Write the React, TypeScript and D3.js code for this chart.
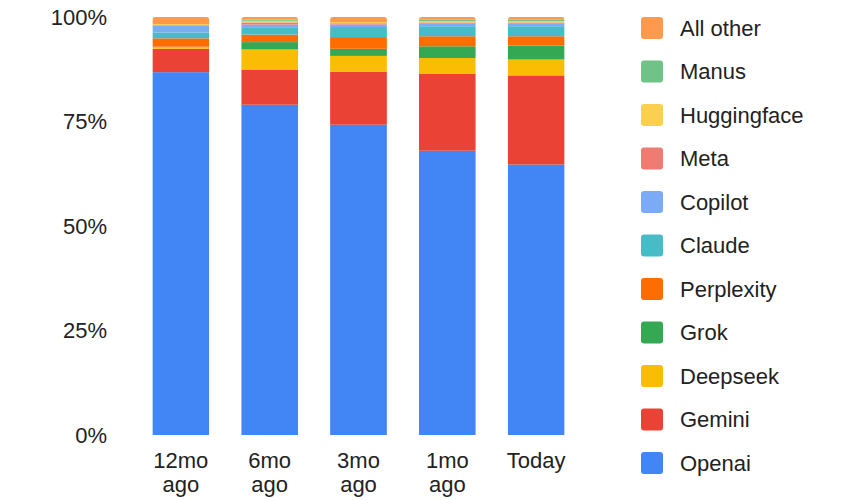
import React, { useEffect, useRef } from 'react';
import * as d3 from 'd3';

const categories = ['12mo ago', '6mo ago', '3mo ago', '1mo ago', 'Today'];

// bottom to top stacking order
const seriesNames = ['Openai', 'Gemini', 'Deepseek', 'Grok', 'Perplexity', 'Claude', 'Copilot', 'Meta', 'Huggingface', 'Manus', 'All other'];
const colors = ['#4285F4', '#EA4335', '#FBBC04', '#34A853', '#FF6D01', '#46BDC6', '#7BAAF7', '#F07B72', '#FCD04F', '#71C287', '#FF994D'];

const openai = [86.8, 78.9, 74.2, 67.9, 64.6];
const gemini = [5.6, 8.4, 12.7, 18.4, 21.3];
const deepseek = [0.4, 4.8, 3.75, 3.75, 3.8];
const grok = [0.1, 1.75, 1.7, 2.8, 3.35];
const perplexity = [2.0, 1.8, 2.8, 2.4, 2.2];
const claude = [1.4, 1.6, 2.4, 2.4, 2.4];
const copilot = [1.6, 0.8, 0.6, 0.6, 0.6];
const meta = [0.15, 0.5, 0.3, 0.3, 0.3];
const huggingface = [0.25, 0.4, 0.3, 0.3, 0.3];
const manus = [0.0, 0.3, 0.0, 0.4, 0.4];
const allOther = [1.7, 0.6, 1.2, 0.6, 0.6];

const seriesValues = [openai, gemini, deepseek, grok, perplexity, claude, copilot, meta, huggingface, manus, allOther];
const yTicks = [0, 25, 50, 75, 100];

const W = 860;
const H = 500;
const FONT = 'Arial, "Liberation Sans", sans-serif';
const FS = 22;

const App: React.FC = () => {
  const svgRef = useRef<SVGSVGElement>(null);

  useEffect(() => {
    document.body.style.margin = '0';
    if (!svgRef.current) return;
    const svg = d3.select(svgRef.current);
    svg.selectAll('*').remove();

    const rows = categories.map((c, i) => {
      const row: Record<string, number | string> = { cat: c };
      seriesNames.forEach((s, j) => { row[s] = seriesValues[j][i]; });
      return row;
    });

    const stack = d3.stack<Record<string, number | string>>()
      .keys(seriesNames)
      .value((d, k) => d[k] as number)
      .offset(d3.stackOffsetExpand);
    const stacked = stack(rows);

    const x = d3.scaleBand()
      .domain(categories)
      .range([108, 609])
      .paddingInner(0.36)
      .paddingOuter(0.5);

    const y = d3.scaleLinear().domain([0, 1]).range([435, 17]);

    // rounded tops
    const defs = svg.append('defs');
    categories.forEach((c, i) => {
      defs.append('clipPath')
        .attr('id', `bar-clip-${i}`)
        .append('rect')
        .attr('x', x(c) || 0)
        .attr('y', y(1))
        .attr('width', x.bandwidth())
        .attr('height', y(0) - y(1) + 6)
        .attr('rx', 3);
    });

    const g = svg.append('g');
    categories.forEach((c, i) => {
      const bar = g.append('g').attr('clip-path', `url(#bar-clip-${i})`);
      stacked.forEach((layer, j) => {
        const d = layer[i];
        bar.append('rect')
          .attr('x', x(c) || 0)
          .attr('y', y(d[1]))
          .attr('width', x.bandwidth())
          .attr('height', Math.max(0, y(d[0]) - y(d[1])))
          .attr('fill', colors[j]);
      });
    });

    // y axis labels
    svg.append('g')
      .selectAll('text')
      .data(yTicks)
      .enter().append('text')
      .attr('x', 107)
      .attr('y', d => y(d / 100))
      .attr('dy', '0.35em')
      .attr('text-anchor', 'end')
      .attr('font-family', FONT)
      .attr('font-size', FS)
      .attr('fill', '#222')
      .text(d => `${d}%`);

    // x axis labels
    const xl = svg.append('g');
    categories.forEach(c => {
      const cx = (x(c) || 0) + x.bandwidth() / 2;
      const parts = c === 'Today' ? ['Today'] : [c.split(' ')[0], c.split(' ')[1]];
      const t = xl.append('text')
        .attr('x', cx)
        .attr('y', 468)
        .attr('text-anchor', 'middle')
        .attr('font-family', FONT)
        .attr('font-size', FS)
        .attr('fill', '#222');
      parts.forEach((p, k) => {
        t.append('tspan').attr('x', cx).attr('dy', k === 0 ? 0 : 24).text(p);
      });
    });

    // legend (top entry is the last series)
    const legendItems = seriesNames.map((s, j) => ({ s, c: colors[j] })).reverse();
    const ly = d3.scalePoint<number>()
      .domain(d3.range(legendItems.length))
      .range([28, 463]);
    const lg = svg.append('g');
    legendItems.forEach((it, k) => {
      const cy = ly(k) || 0;
      lg.append('rect')
        .attr('x', 641)
        .attr('y', cy - 11)
        .attr('width', 22)
        .attr('height', 22)
        .attr('rx', 3)
        .attr('fill', it.c);
      lg.append('text')
        .attr('x', 680)
        .attr('y', cy)
        .attr('dy', '0.35em')
        .attr('font-family', FONT)
        .attr('font-size', FS)
        .attr('fill', '#222')
        .text(it.s);
    });
  }, []);

  return (
    <div style={{ position: 'absolute', left: 0, top: 0, width: W, height: H, background: '#fff' }}>
      <svg ref={svgRef} width={W} height={H} style={{ display: 'block' }} />
    </div>
  );
};

export default App;
